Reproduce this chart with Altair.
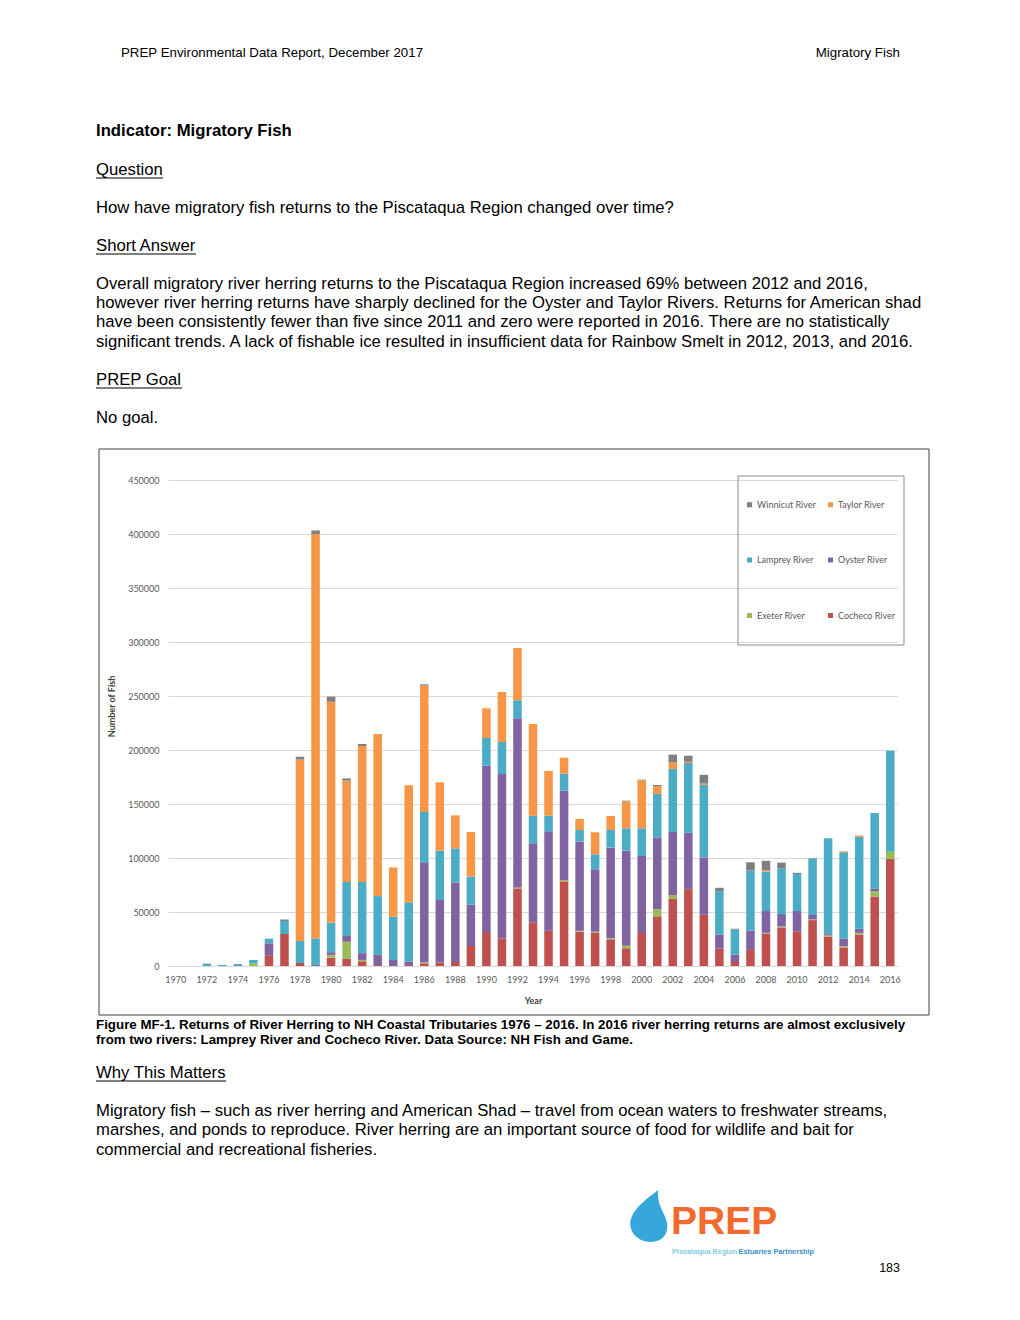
import altair as alt
import pandas as pd

# ---------------- data ----------------
years = list(range(1970, 2017))
rivers = ["Winnicut River", "Taylor River", "Lamprey River", "Oyster River", "Exeter River", "Cocheco River"]
colors = ["#7F7F7F", "#F79646", "#4BACC6", "#8064A2", "#9BBB59", "#C0504D"]
stack_order = ["Cocheco River", "Exeter River", "Oyster River", "Lamprey River", "Taylor River", "Winnicut River"]

cocheco = [0, 0, 0, 0, 0, 0, 9400, 29700, 2800, 0,
           7800, 6900, 4400, 900, 0, 900, 2500, 3100, 3700, 18500,
           31500, 25600, 71900, 40100, 32700, 78400, 31800, 30600, 24700, 16400,
           30600, 46000, 62000, 71100, 47500, 16100, 3700, 14900, 30100, 35700,
           31700, 42500, 27300, 17100, 29200, 64300, 99100]
exeter = [0, 0, 0, 0, 0, 2500, 0, 0, 0, 0,
          2500, 15600, 1200, 0, 0, 0, 900, 0, 0, 0,
          0, 0, 900, 0, 0, 1200, 900, 1200, 900, 2400,
          0, 6500, 3600, 0, 0, 0, 0, 0, 600, 900,
          0, 700, 1000, 1200, 1500, 5000, 6800]
oyster = [0, 0, 0, 0, 0, 0, 11600, 0, 0, 1000,
          2500, 5300, 6300, 9400, 5600, 3400, 92600, 58000, 73500, 38300,
          154000, 152200, 156500, 73500, 92000, 82700, 82400, 57700, 84000, 88000,
          71300, 66600, 58500, 52200, 53100, 13100, 6900, 18000, 20200, 11500,
          19200, 4000, 1200, 6900, 3800, 2100, 0]
lamprey = [0, 0, 2200, 1000, 1800, 3000, 4300, 11900, 20300, 24600,
           27500, 50000, 65900, 54400, 40000, 54700, 46600, 45700, 31700, 25900,
           25600, 29600, 16700, 25600, 14500, 15800, 10800, 13900, 16300, 20700,
           25600, 40200, 58400, 64600, 67100, 40100, 23300, 55600, 36600, 42300,
           34200, 51900, 88800, 80100, 85100, 70200, 93500]
taylor = [0, 0, 0, 0, 0, 0, 0, 0, 168100, 374400,
          204400, 93800, 125900, 150000, 45600, 108300, 117000, 63300, 30600, 41400,
          27500, 46300, 48400, 84900, 41400, 14800, 10200, 20400, 13000, 25000,
          44400, 7100, 5900, 1200, 1200, 0, 0, 0, 1200, 0,
          0, 0, 0, 900, 1200, 0, 0]
winnicut = [0, 0, 0, 0, 0, 0, 0, 1500, 2500, 3300,
            4700, 2100, 1900, 0, 0, 0, 1200, 0, 0, 0,
            0, 0, 0, 0, 0, 0, 0, 0, 0, 600,
            600, 1200, 7300, 5600, 8100, 3100, 600, 7500, 8700, 5300,
            1200, 600, 0, 0, 0, 0, 0]

series = {
    "Cocheco River": cocheco,
    "Exeter River": exeter,
    "Oyster River": oyster,
    "Lamprey River": lamprey,
    "Taylor River": taylor,
    "Winnicut River": winnicut,
}
rows = []
for r, vals in series.items():
    for y, v in zip(years, vals):
        rows.append({"Year": y, "River": r, "Fish": v, "ord": stack_order.index(r)})
df = pd.DataFrame(rows)

x_labels = list(range(1970, 2017, 2))

# ---------------- layout helpers ----------------
OX, OY = 168, 480  # page position of plot-area origin
one = pd.DataFrame({"a": [0]})
BODY = "Liberation Sans"
BS = 16.7  # body font size


def txt(s, x, y, size=BS, weight="normal", align="left", color="#000000", font=BODY):
    return alt.Chart(one).mark_text(
        align=align, baseline="middle", fontSize=size, fontWeight=weight,
        color=color, font=font
    ).encode(x=alt.value(x - OX), y=alt.value(y - OY), text=alt.value(s))


def hline(x1, x2, y, color="#000000", w=1):
    return alt.Chart(one).mark_rule(color=color, strokeWidth=w).encode(
        x=alt.value(x1 - OX), x2=alt.value(x2 - OX), y=alt.value(y - OY))


def frame(x1, y1, x2, y2, color, w=1):
    return alt.Chart(one).mark_rect(fillOpacity=0, stroke=color, strokeWidth=w).encode(
        x=alt.value(x1 - OX), x2=alt.value(x2 - OX), y=alt.value(y1 - OY), y2=alt.value(y2 - OY))


# ---------------- bar chart ----------------
bars = alt.Chart(df[df["Fish"] > 0]).mark_bar().encode(
    x=alt.X("Year:O",
            scale=alt.Scale(domain=years, paddingInner=0.45, paddingOuter=0.225),
            axis=alt.Axis(values=x_labels, labelAngle=0, title="Year", labelFontSize=9,
                          labelColor="#595959", labelFont="Lato", ticks=False,
                          domainColor="#D9D9D9", labelPadding=9, titleFontSize=9,
                          titleFont="Lato", titleFontWeight="bold", titleColor="#404040",
                          titlePadding=12)),
    y=alt.Y("Fish:Q", stack="zero",
            scale=alt.Scale(domain=[0, 450000], nice=False),
            axis=alt.Axis(values=list(range(0, 450001, 50000)), format="d",
                          title="Number of Fish", labelFontSize=9, labelColor="#595959",
                          labelFont="Lato", ticks=False, domain=False, gridColor="#D9D9D9",
                          labelPadding=9, titleFontSize=9, titleFont="Lato",
                          titleFontWeight="bold", titleColor="#404040",
                          titleX=-57, titleY=226, titleAlign="center", titleBaseline="middle")),
    color=alt.Color("River:N", scale=alt.Scale(domain=rivers, range=colors),
                    legend=alt.Legend(orient="none", legendX=577, legendY=20, title=None,
                                      columns=2, direction="horizontal",
                                      symbolType="square", symbolSize=25, symbolStrokeWidth=0,
                                      labelFontSize=9, labelFont="Lato", labelColor="#595959",
                                      labelOffset=3, rowPadding=45.5, columnPadding=10,
                                      padding=0)),
    order=alt.Order("ord:Q", sort="ascending"),
)

layers = [
    frame(99, 449, 929, 1015, "#404040", 1),
    frame(738, 476, 904, 645, "#8C8C8C", 1),
    bars,
    # header
    txt("PREP Environmental Data Report, December 2017", 121, 53, 13.3),
    txt("Migratory Fish", 900, 53, 13.3, align="right"),
    txt("Indicator: Migratory Fish", 96, 131, BS, weight="bold"),
    txt("Question", 96, 170), hline(96, 163, 178),
    txt("How have migratory fish returns to the Piscataqua Region changed over time?", 96, 208),
    txt("Short Answer", 96, 246), hline(96, 196, 254),
    txt("Overall migratory river herring returns to the Piscataqua Region increased 69% between 2012 and 2016,", 96, 284),
    txt("however river herring returns have sharply declined for the Oyster and Taylor Rivers. Returns for American shad", 96, 303),
    txt("have been consistently fewer than five since 2011 and zero were reported in 2016. There are no statistically", 96, 322),
    txt("significant trends. A lack of fishable ice resulted in insufficient data for Rainbow Smelt in 2012, 2013, and 2016.", 96, 342),
    txt("PREP Goal", 96, 380), hline(96, 182, 388),
    txt("No goal.", 96, 418),
    # caption
    txt("Figure MF-1. Returns of River Herring to NH Coastal Tributaries 1976 \u2013 2016. In 2016 river herring returns are almost exclusively",
        96, 1025, 13.35, weight="bold"),
    txt("from two rivers: Lamprey River and Cocheco River. Data Source: NH Fish and Game.",
        96, 1040, 13.35, weight="bold"),
    txt("Why This Matters", 96, 1073), hline(96, 226, 1081),
    txt("Migratory fish \u2013 such as river herring and American Shad \u2013 travel from ocean waters to freshwater streams,", 96, 1111),
    txt("marshes, and ponds to reproduce. River herring are an important source of food for wildlife and bait for", 96, 1130),
    txt("commercial and recreational fisheries.", 96, 1150),
    # logo
    alt.Chart(one).mark_point(
        shape="M0.35,-1 C-0.15,-0.6 -0.75,-0.2 -0.72,0.35 C-0.68,0.8 -0.28,1 0.08,1 C0.5,1 0.75,0.7 0.7,0.3 C0.65,-0.1 0.3,-0.35 0.35,-1 Z",
        filled=True, color="#35A7DA", opacity=1, size=2700
    ).encode(x=alt.value(649 - OX), y=alt.value(1216 - OY)),
    txt("PREP", 671, 1222, 39, weight="bold", color="#F26A2E"),
    txt("Piscataqua Region", 672, 1252, 7.3, weight="bold", color="#7FCDE4"),
    txt("Estuaries Partnership", 814, 1252, 7.3, weight="bold", color="#3B8FC8", align="right"),
    txt("183", 900, 1268, 12.5, align="right"),
]

chart = alt.layer(*layers).properties(
    width=730, height=486,
    padding={"left": 160, "top": 472, "right": 114, "bottom": 346},
    autosize=alt.AutoSizeParams(type="none"),
    background="#FFFFFF",
).configure_view(strokeWidth=0)

chart.save("out.html", embed_options={"renderer": "svg", "actions": False})
